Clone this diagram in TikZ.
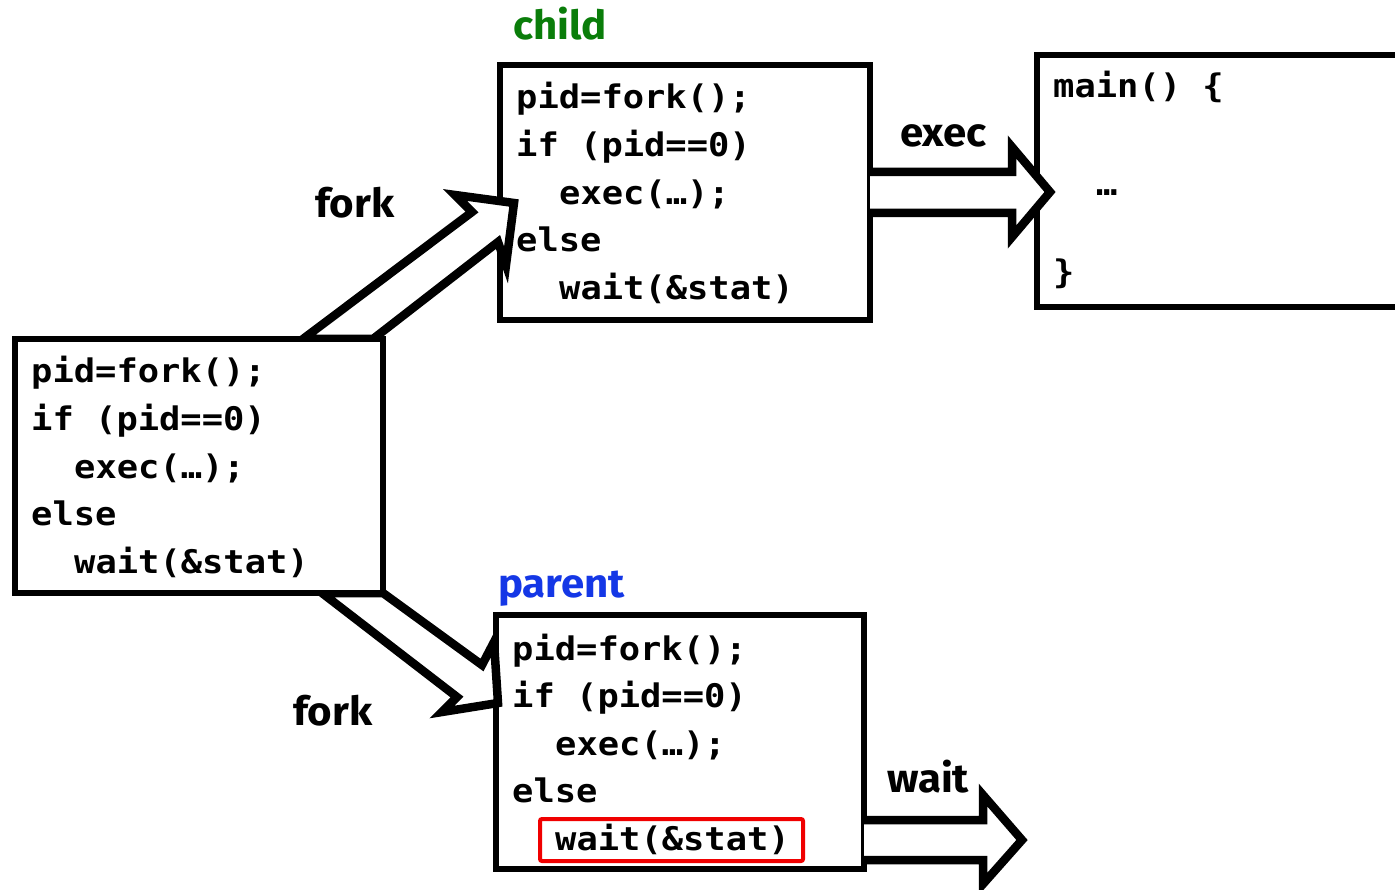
\documentclass[tikz,border=0pt]{standalone}
\usepackage{fontspec}
\newfontfamily\codefont[FakeStretch=1.09]{DejaVu Sans Mono Bold}
\newfontfamily\labelfont[FakeStretch=1.05]{Fira Sans Bold}
\definecolor{childgreen}{RGB}{10,125,10}
\definecolor{parentblue}{RGB}{20,55,230}
\definecolor{boxred}{RGB}{240,0,0}
\begin{document}
\begin{tikzpicture}[x=1pt,y=-1pt,
  box/.style={draw=black,line width=6.5pt,fill=white},
  blockarrow/.style={draw=black,line width=8.5pt,fill=white,line join=miter,miter limit=10},
  code/.style={anchor=base west,inner sep=0pt,font=\codefont\fontsize{32.5}{32.5}\selectfont},
  lbl/.style={anchor=base west,inner sep=0pt,font=\labelfont\fontsize{40}{40}\selectfont}]
\useasboundingbox (0,0) rectangle (1395,890);
\clip (0,0) rectangle (1395,890);
\fill[white] (0,0) rectangle (1395,890);

% boxes
\draw[box] (15,339) rectangle (383,593);
\draw[box] (500,65) rectangle (870,320);
\draw[box] (1037,55) rectangle (1420,307);
\draw[box] (496,615) rectangle (864,869);

% coordinates of block arrows
\coordinate (fua) at (303,339);
\coordinate (fub) at (472,212);
\coordinate (fuc) at (455,195);
\coordinate (fud) at (514,203);
\coordinate (fue) at (506,265);
\coordinate (fuf) at (498,242);
\coordinate (fug) at (373,339);

\coordinate (fda) at (383,593);
\coordinate (fdb) at (482,665);
\coordinate (fdc) at (494,642);
\coordinate (fdd) at (498,703);
\coordinate (fde) at (442,712);
\coordinate (fdf) at (457,697);
\coordinate (fdg) at (322,593);

\coordinate (exa) at (870,172);
\coordinate (exb) at (1012,172);
\coordinate (exc) at (1012,147);
\coordinate (exd) at (1050,192);
\coordinate (exe) at (1012,237);
\coordinate (exf) at (1012,213);
\coordinate (exg) at (870,213);

\coordinate (wta) at (864,820);
\coordinate (wtb) at (983,820);
\coordinate (wtc) at (983,795);
\coordinate (wtd) at (1022,840);
\coordinate (wte) at (983,884);
\coordinate (wtf) at (983,860);
\coordinate (wtg) at (864,860);

\draw[blockarrow] (fua) -- (fub) -- (fuc) -- (fud) -- (fue) -- (fuf) -- (fug) -- cycle;
\draw[blockarrow] (fda) -- (fdb) -- (fdc) -- (fdd) -- (fde) -- (fdf) -- (fdg) -- cycle;
\draw[blockarrow] (exa) -- (exb) -- (exc) -- (exd) -- (exe) -- (exf) -- (exg);
\draw[blockarrow] (wta) -- (wtb) -- (wtc) -- (wtd) -- (wte) -- (wtf) -- (wtg);
% redraw box edges under the tails
\fill[white] (18,342) rectangle (380,590);
\draw[black,line width=6.5pt] (15,339) -- (383,339);
\draw[black,line width=6.5pt] (15,593) -- (383,593) -- (383,339);

% left code
\node[code] (l1) at (31,383) {pid=fork();};
\node[code] (l2) at (31,430.6) {if (pid==0)};
\node[code] (l3) at (74,478.2) {exec(…);};
\node[code] (l4) at (31,525.8) {else};
\node[code] (l5) at (74,573.4) {wait(\&stat)};

% child code
\node[code] (c1) at (516,109) {pid=fork();};
\node[code] (c2) at (516,156.6) {if (pid==0)};
\node[code] (c3) at (559,204.2) {exec(…);};
\node[code] (c4) at (516,251.8) {else};
\node[code] (c5) at (559,299.4) {wait(\&stat)};

% parent code
\node[code] (p1) at (512,660) {pid=fork();};
\node[code] (p2) at (512,707.6) {if (pid==0)};
\node[code] (p3) at (555,755.2) {exec(…);};
\node[code] (p4) at (512,802.8) {else};
\node[code] (p5) at (555,850.4) {wait(\&stat)};
\draw[boxred,line width=4pt,rounded corners=2pt] (540,819) rectangle (803,861);

% main code
\node[code] (m1) at (1053,98) {main() \{};
\node[code] (m2) at (1096,196) {…};
\node[code] (m3) at (1053,284) {\}};

% labels
\node[lbl,text=childgreen] (child) at (513,40) {child};
\node[lbl,text=parentblue] (parent) at (498,597) {parent};
\node[lbl] (forkup) at (315,218) {fork};
\node[lbl] (forkdown) at (293,725) {fork};
\node[lbl] (exec) at (900,147) {exec};
\node[lbl] (wait) at (887,792) {wait};
\end{tikzpicture}
\end{document}
